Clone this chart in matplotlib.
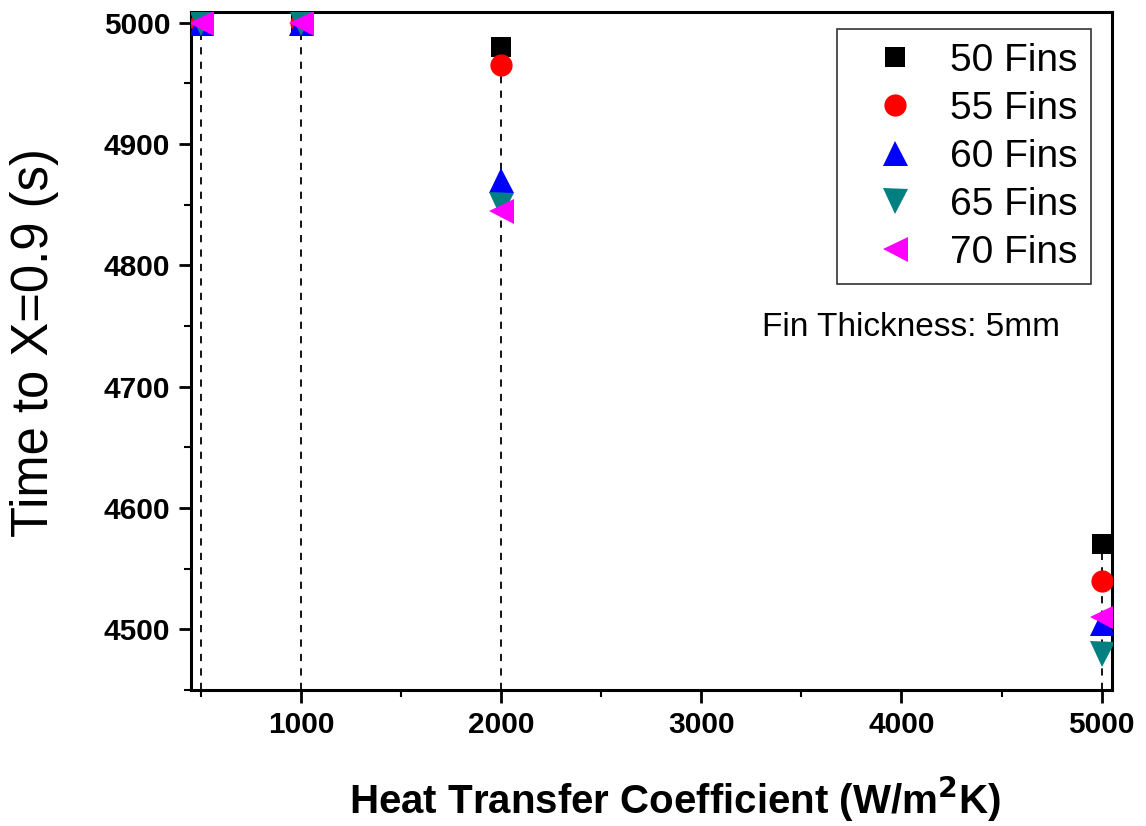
import matplotlib
matplotlib.use("Agg")
import matplotlib.pyplot as plt
from matplotlib.ticker import MultipleLocator

plt.rcParams['font.family'] = ['Liberation Sans', 'DejaVu Sans']

# Heat transfer coefficient (W/m^2K)
h_values = [500, 1000, 2000, 5000]

# Time to X=0.9 (s) for each fin count
fins_50 = [5000, 5000, 4980, 4570]
fins_55 = [5000, 5000, 4965, 4540]
fins_60 = [5000, 5000, 4870, 4505]
fins_65 = [5000, 5000, 4850, 4480]
fins_70 = [5000, 5000, 4845, 4510]

series = [
    ("50 Fins", fins_50, "s", "black", 14.5),
    ("55 Fins", fins_55, "o", "red", 16),
    ("60 Fins", fins_60, "^", "blue", 18),
    ("65 Fins", fins_65, "v", "#008080", 18),
    ("70 Fins", fins_70, "<", "magenta", 18),
]

fig = plt.figure(figsize=(11.46, 8.26), dpi=100)
ax = fig.add_axes([0.1667, 0.1646, 0.9703 - 0.1667, 0.9858 - 0.1646])

ax.set_xlim(450, 5052)
ax.set_ylim(4450, 5009)

# Dashed drop lines from the highest value at each coefficient
all_series = [fins_50, fins_55, fins_60, fins_65, fins_70]
for i, h in enumerate(h_values):
    top = max(s[i] for s in all_series)
    ax.vlines(h, 4450, top, colors="black", linestyles=(0, (4, 4)), linewidth=1.3, zorder=1)

for label, vals, marker, color, ms in series:
    ax.plot(h_values, vals, linestyle="none", marker=marker, color=color,
            markersize=ms, markeredgewidth=0, label=label, zorder=3)

ax.xaxis.set_major_locator(MultipleLocator(1000))
ax.xaxis.set_minor_locator(MultipleLocator(500))
ax.yaxis.set_major_locator(MultipleLocator(100))
ax.yaxis.set_minor_locator(MultipleLocator(50))
ax.set_xticks([1000, 2000, 3000, 4000, 5000])

ax.tick_params(axis="both", which="major", direction="out", length=9, width=2,
               labelsize=21.5, pad=6)
ax.tick_params(axis="both", which="minor", direction="out", length=5, width=1.5)
for lab in ax.get_xticklabels() + ax.get_yticklabels():
    lab.set_fontweight("bold")

for sp in ax.spines.values():
    sp.set_linewidth(2.2)

ax.set_xlabel("Heat Transfer Coefficient (W/m$^\\mathbf{2}$K)", fontsize=29,
              fontweight="bold", labelpad=26)
ax.xaxis.label.set_x(0.525)
ax.set_ylabel("Time to X=0.9 (s)", fontsize=36.5, labelpad=32)
ax.yaxis.label.set_y(0.513)

leg = ax.legend(loc="upper right", bbox_to_anchor=(0.977, 0.9745), fontsize=28,
                frameon=True, fancybox=False, edgecolor="black", handletextpad=0.28,
                borderpad=0.35, labelspacing=0.31, handlelength=2.26, borderaxespad=0)
leg.get_frame().set_linewidth(1.2)

ax.text(0.62, 0.535, "Fin Thickness: 5mm", transform=ax.transAxes, fontsize=24,
        ha="left", va="center")

fig.savefig("out.png", dpi=100)
